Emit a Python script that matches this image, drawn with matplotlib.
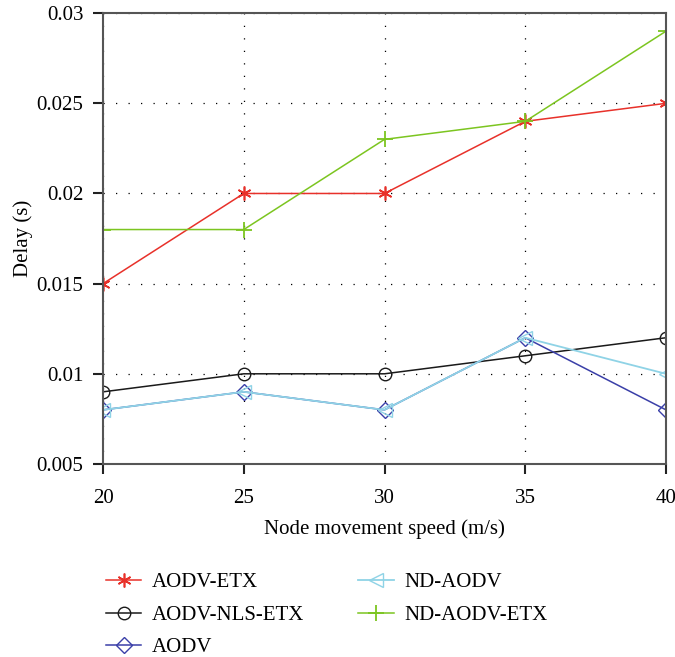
import matplotlib
matplotlib.use('Agg')
import matplotlib.pyplot as plt

plt.rcParams['font.family'] = ['Liberation Serif', 'DejaVu Serif']

speed = [20, 25, 30, 35, 40]

aodv_etx = [0.015, 0.020, 0.020, 0.024, 0.025]
aodv_nls_etx = [0.009, 0.010, 0.010, 0.011, 0.012]
aodv = [0.008, 0.009, 0.008, 0.012, 0.008]
nd_aodv = [0.008, 0.009, 0.008, 0.012, 0.010]
nd_aodv_etx = [0.018, 0.018, 0.023, 0.024, 0.029]

fig = plt.figure(figsize=(6.75, 6.57), dpi=100)
ax = fig.add_axes([0.1526, 0.2938, 0.8341, 0.6862])

# порядок как в легенде
ax.plot(speed, aodv_etx, color='#e8312a', marker=(6, 2, 0), ms=10, mew=1.2, lw=1.1, label='AODV-ETX')
ax.plot(speed, aodv_nls_etx, color='#1a1a1a', marker='o', ms=9, mfc='none', lw=1.1, label='AODV-NLS-ETX')
ax.plot(speed, aodv, color='#3a3fa8', marker='D', ms=8, mfc='none', lw=1.1, label='AODV')
ax.plot(speed, nd_aodv, color='#8fd3e6', marker='<', ms=10, mfc='none', lw=1.3, label='ND-AODV')
ax.plot(speed, nd_aodv_etx, color='#7cc520', marker='+', ms=11, mew=1.3, lw=1.1, label='ND-AODV-ETX')

ax.set_xlim(20, 40)
ax.set_ylim(0.005, 0.03)
ax.set_xticks(speed)
ax.set_yticks([0.005, 0.01, 0.015, 0.02, 0.025, 0.03])
ax.set_yticklabels(['0.005', '0.01', '0.015', '0.02', '0.025', '0.03'])
ax.grid(True, linestyle=(0, (1, 9)), color='black', linewidth=0.9)
ax.tick_params(direction='out', length=7, width=1.5, pad=7, labelsize=15,
               top=False, right=False, color='#222222')
ax.tick_params(axis='x', pad=11)
for s in ax.spines.values():
    s.set_linewidth(1.5)
    s.set_color('#555555')

ax.set_xlabel('Node movement speed (m/s)', fontsize=15, labelpad=8)
ax.set_ylabel('Delay (s)', fontsize=15, labelpad=3)

ax.legend(loc='upper left', bbox_to_anchor=(-0.028, -0.2), ncol=2, frameon=False,
          fontsize=15, handlelength=1.7, handletextpad=0.5, columnspacing=2.6,
          labelspacing=0.62)

fig.savefig('out.png', dpi=100)
